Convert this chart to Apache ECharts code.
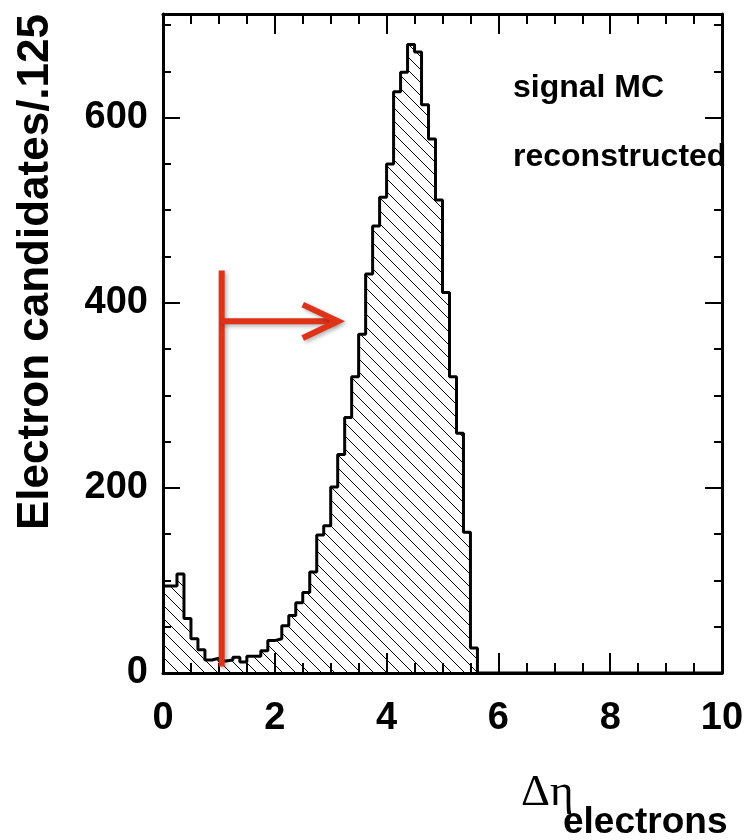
<!DOCTYPE html>
<html><head><meta charset="utf-8">
<script src="https://cdn.jsdelivr.net/npm/echarts@6/dist/echarts.min.js"></script>
<style>html,body{margin:0;padding:0;background:#fff}#c{width:749px;height:840px}</style>
</head><body><div id="c"></div>
<script>
// ---- data ----
const binLow = 0;
const binWidth = 0.125;
const counts = [
  94, 94, 107, 59, 37, 25, 14, 16, 13, 14,
  17, 12, 18, 18, 24, 35, 37, 51, 62, 76,
  87, 109, 149, 159, 201, 236, 276, 320, 366, 431,
  483, 514, 550, 628, 649, 679, 671, 614, 577, 511,
  411, 320, 259, 152, 27, 0, 0, 0, 0, 0,
  0, 0, 0, 0, 0, 0, 0, 0, 0, 0,
  0, 0, 0, 0, 0, 0, 0, 0, 0, 0,
  0, 0, 0, 0, 0, 0, 0, 0, 0, 0
];
const xTickLabels = [0, 2, 4, 6, 8, 10];
const yTickLabels = [0, 200, 400, 600];
const yMinorTicks = [50, 100, 150, 250, 300, 350, 450, 500, 550, 650, 700];
const legendTexts = ['signal MC', 'reconstructed'];
const yTitle = 'Electron candidates/.125';
const xTitleMain = '\u0394\u03b7';
const xTitleSub = 'electrons';
// cut annotation (data coordinates)
const cutLine = [[1.05, 7], [1.05, 435]];
const cutShaft = [[1.05, 380], [3.08, 380]];
const cutHead = [[2.5, 398], [3.13, 380], [2.5, 362]];

// ---- drawing ----
function hatch() {
  const s = 13;
  const c = document.createElement('canvas');
  c.width = s; c.height = s;
  const g = c.getContext('2d');
  g.strokeStyle = '#000'; g.lineWidth = 1;
  g.beginPath();
  g.moveTo(-2, -2); g.lineTo(s + 2, s + 2);
  g.moveTo(-2, s - 2); g.lineTo(2, s + 2);
  g.moveTo(s - 2, -2); g.lineTo(s + 2, 2);
  g.stroke();
  return c;
}
const histData = counts.map((v, i) => [binLow + i * binWidth, v]);
histData.push([binLow + counts.length * binWidth, counts[counts.length - 1]]);

const FONT = '"Liberation Sans", Arial, Helvetica, sans-serif';
const RED = '#de3219';
const redStyle = {
  color: RED, width: 6, cap: 'butt', join: 'miter',
  shadowBlur: 4, shadowColor: 'rgba(0,0,0,0.3)', shadowOffsetX: 2, shadowOffsetY: 2
};
const xMax = binLow + counts.length * binWidth;
const yMax = 712;

function xAxisDef(pos, showLabel) {
  return {
    type: 'value', position: pos, min: 0, max: xMax, interval: 2,
    axisLine: { show: true, onZero: false, lineStyle: { color: '#000', width: 3 } },
    axisTick: { show: true, inside: true, length: 20, lineStyle: { color: '#000', width: 2 } },
    minorTick: { show: true, splitNumber: 4, length: 10, lineStyle: { color: '#000', width: 2 } },
    splitLine: { show: false },
    axisLabel: {
      show: showLabel, margin: 27, color: '#000', fontSize: 38, fontWeight: 'bold', fontFamily: FONT,
      customValues: xTickLabels
    }
  };
}
function yAxisDef(pos, major, showLabel) {
  return {
    type: 'value', position: pos, min: 0, max: yMax, interval: 200,
    axisLine: { show: major, onZero: false, lineStyle: { color: '#000', width: 3 } },
    axisTick: {
      show: true, inside: true, length: major ? 17 : 8,
      customValues: major ? yTickLabels : yMinorTicks,
      lineStyle: { color: '#000', width: 2 }
    },
    splitLine: { show: false },
    axisLabel: {
      show: showLabel, margin: 15, color: '#000', fontSize: 38, fontWeight: 'bold', fontFamily: FONT,
      customValues: yTickLabels
    }
  };
}

const chart = echarts.init(document.getElementById('c'), null, { renderer: 'canvas' });
chart.setOption({
  animation: false,
  backgroundColor: '#fff',
  grid: { left: 163, right: 27, top: 14, bottom: 167 },
  xAxis: [xAxisDef('bottom', true), xAxisDef('top', false)],
  yAxis: [
    yAxisDef('left', true, true), yAxisDef('left', false, false),
    yAxisDef('right', true, false), yAxisDef('right', false, false)
  ],
  series: [
    {
      type: 'line', step: 'end', data: histData, symbol: 'none', silent: true,
      lineStyle: { color: '#000', width: 3 },
      areaStyle: { color: { image: hatch(), repeat: 'repeat' }, opacity: 1 },
      z: 3
    },
    { type: 'line', data: cutLine, symbol: 'none', silent: true, lineStyle: redStyle, z: 6 },
    { type: 'line', data: cutShaft, symbol: 'none', silent: true, lineStyle: redStyle, z: 6 },
    { type: 'line', data: cutHead, symbol: 'none', silent: true, lineStyle: redStyle, z: 6 }
  ],
  graphic: [
    { type: 'text', x: 513, y: 88, style: { text: legendTexts[0], font: 'bold 32px ' + FONT, fill: '#000', align: 'left', verticalAlign: 'middle' } },
    { type: 'text', x: 513, y: 157, style: { text: legendTexts[1], font: 'bold 32px ' + FONT, fill: '#000', align: 'left', verticalAlign: 'middle' } },
    { type: 'text', x: 36, y: 272, rotation: Math.PI / 2, style: { text: yTitle, font: 'bold 44px ' + FONT, fill: '#000', align: 'center', verticalAlign: 'middle' } },
    { type: 'text', x: 521, y: 793, style: { text: xTitleMain, font: '45px "Liberation Serif", "Times New Roman", serif', fill: '#000', align: 'left', verticalAlign: 'middle' } },
    { type: 'text', x: 563, y: 823, style: { text: xTitleSub, font: 'bold 37px ' + FONT, fill: '#000', align: 'left', verticalAlign: 'middle' } }
  ]
});
</script>
</body></html>
